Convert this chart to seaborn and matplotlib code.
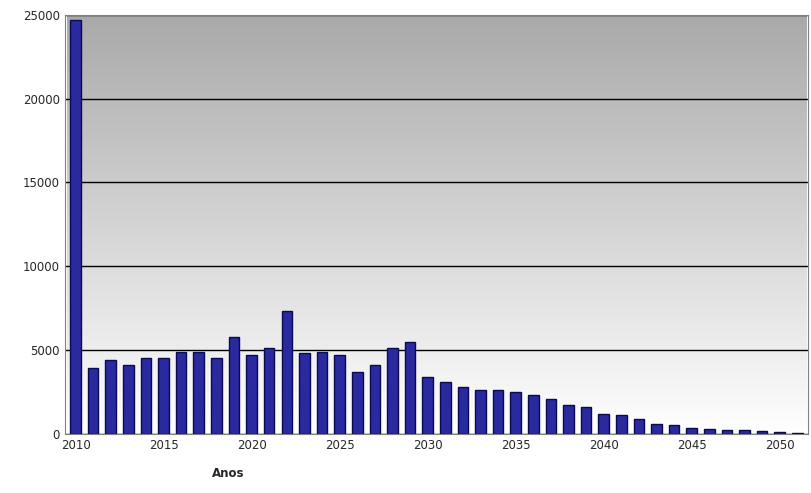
import numpy as np
import pandas as pd
import matplotlib
matplotlib.use("Agg")
import matplotlib.pyplot as plt
import seaborn as sns

anos = list(range(2010, 2052))
valores = [24700, 3900, 4400, 4100, 4500, 4500, 4900, 4900, 4500, 5800,
           4700, 5100, 7300, 4800, 4900, 4700, 3700, 4100, 5100, 5500,
           3400, 3100, 2800, 2600, 2600, 2500, 2300, 2100, 1700, 1600,
           1200, 1100, 900, 600, 500, 350, 300, 250, 200, 150, 100, 50]

df = pd.DataFrame({"ano": anos, "valor": valores})

sns.set_style("white")
plt.rcParams["font.family"] = ["DejaVu Sans"]
fig, ax = plt.subplots(figsize=(8.12, 4.93), dpi=100)
fig.subplots_adjust(left=0.08, right=0.995, top=0.97, bottom=0.12)

# gray-to-white gradient back wall
grad = np.linspace(0, 1, 256).reshape(-1, 1)
ax.imshow(grad, cmap=sns.blend_palette(["#ffffff", "#a9a9a9"], as_cmap=True),
          aspect="auto", extent=(-0.5, len(anos) - 0.5, 0, 25000),
          origin="lower", zorder=0)

sns.barplot(data=df, x="ano", y="valor", color="#2a2aa0", width=0.6,
            edgecolor="#0a0a50", linewidth=1, saturation=1, ax=ax, zorder=3)

ax.set_ylim(0, 25000)
ax.set_xlim(-0.6, len(anos) - 0.4)
ax.set_yticks(range(0, 25001, 5000))
ax.yaxis.grid(True, color="black", linewidth=1)
for line in ax.get_ygridlines():
    line.set_zorder(1)
ticks = [i for i, a in enumerate(anos) if a % 5 == 0]
ax.set_xticks(ticks)
ax.set_xticklabels([str(anos[i]) for i in ticks])
ax.tick_params(labelsize=8.5, length=0)
ax.set_xlabel("Anos", fontsize=8.5, fontweight="bold")
ax.xaxis.set_label_coords(0.22, -0.08)
ax.set_ylabel("")
for s in ax.spines.values():
    s.set_color("#808080")
plt.savefig("out.png")
